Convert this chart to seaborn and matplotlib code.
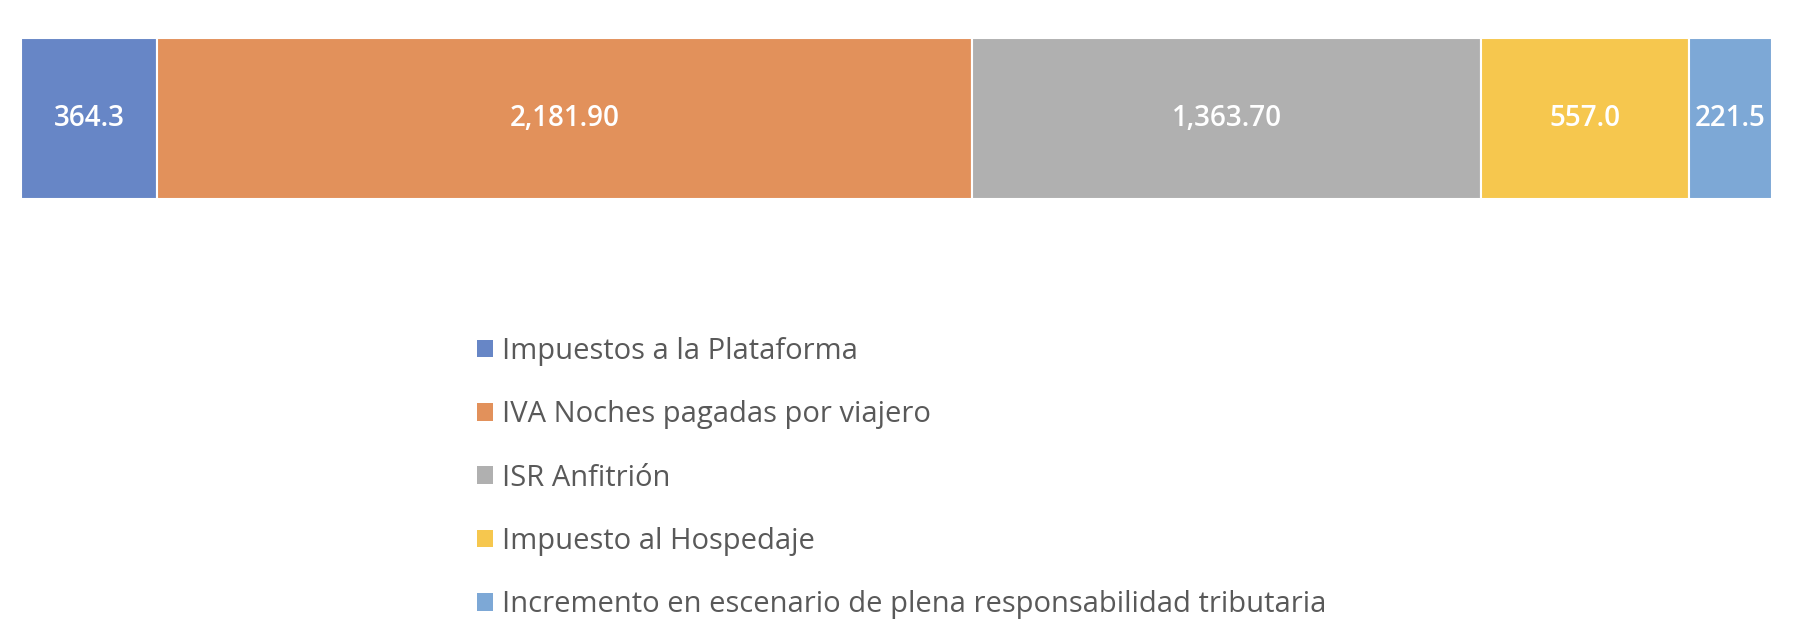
import matplotlib
matplotlib.use("Agg")
import matplotlib.pyplot as plt
import seaborn as sns
import pandas as pd
import numpy as np
from matplotlib.patches import Patch

categories = ["Impuestos a la Plataforma",
              "IVA Noches pagadas por viajero",
              "ISR Anfitrión",
              "Impuesto al Hospedaje",
              "Incremento en escenario de plena responsabilidad tributaria"]
values = [364.3, 2181.9, 1363.7, 557.0, 221.5]
value_labels = ["364.3", "2,181.90", "1,363.70", "557.0", "221.5"]
colors = ["#6786C6", "#E2915B", "#B0B0B0", "#F6C74E", "#7DA8D6"]

sns.set_theme(style="white")
plt.rcParams['font.family'] = ['Open Sans', 'DejaVu Sans']

fig = plt.figure(figsize=(18.02, 6.44), dpi=100)
ax = fig.add_axes([21/1802, 1-199/644, 1751/1802, 161/644])

df = pd.DataFrame({"cat": categories, "val": values, "lab": value_labels})
df["left"] = df["val"].cumsum() - df["val"]
df["row"] = ""

for i, r in df.iterrows():
    sns.barplot(x=[r["val"]], y=[r["row"]], orient="h", color=colors[i],
                left=r["left"], width=1.0, edgecolor="white", linewidth=1.5,
                saturation=1, ax=ax)
    ax.text(r["left"] + r["val"]/2, 0, r["lab"], ha="center", va="center",
            color="white", fontsize=20, fontweight="semibold")

ax.set_xlim(0, sum(values))
ax.set_ylim(0.5, -0.5)
ax.set_axis_off()

handles = [Patch(facecolor=c, edgecolor="none") for c in colors]
fig.legend(handles, categories, loc="center left",
           bbox_to_anchor=(477/1802, 1-478/644), frameon=False,
           fontsize=21, labelcolor="#595959", handlelength=0.55,
           handleheight=0.55, handletextpad=0.3, labelspacing=1.18,
           borderpad=0, borderaxespad=0)

fig.savefig("out.png", dpi=100)
